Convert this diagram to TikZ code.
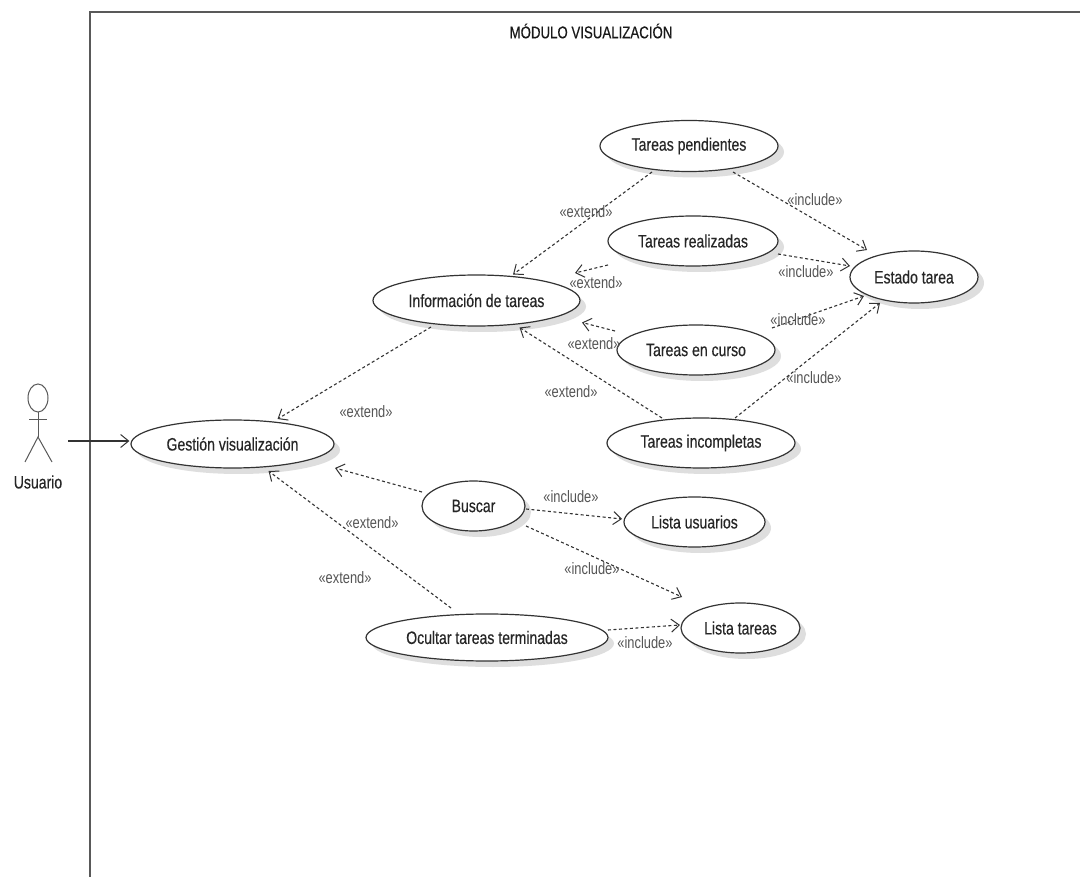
\documentclass[tikz,border=0pt]{standalone}
\usepackage{fontspec}
\setmainfont[FakeStretch=0.78]{Liberation Sans}
\newfontfamily\ucfont[FakeStretch=0.78,FakeBold=0.35]{Liberation Sans}
\usetikzlibrary{shapes.geometric,arrows.meta,calc,shadows}
\definecolor{linec}{HTML}{333333}
\definecolor{labelc}{HTML}{555555}
\tikzset{
  usecase/.style={ellipse,draw=linec,line width=1.2pt,fill=white,inner sep=0pt,text=black!85,
    font=\ucfont\fontsize{18}{20}\selectfont,
    drop shadow={shadow xshift=6pt,shadow yshift=-6pt,fill=black!13,opacity=1}},
  dep/.style={draw=linec,line width=1.1pt,dash pattern=on 3pt off 2.5pt,-{Straight Barb[length=8pt,width=13pt,line width=1pt]}},
  assoc/.style={draw=linec,line width=1.2pt,-{Straight Barb[length=8pt,width=13pt,line width=1pt]}},
  stereo/.style={text=labelc,font=\fontsize{16.5}{18}\selectfont,inner sep=0pt},
  actorline/.style={draw=black!65,line width=1pt},
}
\begin{document}
\begin{tikzpicture}[x=1pt,y=-1pt]
\useasboundingbox (0,0) rectangle (1080,877);
\fill[white] (0,0) rectangle (1080,877);
% frame
\coordinate (fbl) at (90,877);
\coordinate (ftl) at (90,12);
\coordinate (ftr) at (1080,12);
\draw[draw=black!65,line width=1.4pt] (fbl) -- (ftl) -- (ftr);
\node[text=black!90,font=\ucfont\fontsize{17}{19}\selectfont] (title) at (591,31) {MÓDULO VISUALIZACIÓN};
% actor
\node[ellipse,draw=black!65,line width=1pt,minimum width=20pt,minimum height=28pt,inner sep=0pt] (head) at (38,398) {};
\coordinate (hip) at (38,437);
\coordinate (arml) at (29,420);
\coordinate (armr) at (47,420);
\coordinate (legl) at (25,462);
\coordinate (legr) at (52,462);
\draw[actorline] (head.south) -- (hip);
\draw[actorline] (arml) -- (armr);
\draw[actorline] (legl) -- (hip) -- (legr);
\node[text=black!85,font=\ucfont\fontsize{18}{20}\selectfont] (usuario) at (38,482) {Usuario};
\coordinate (actorhand) at (68,441);
% use cases
\node[usecase,minimum width=178pt,minimum height=51pt] (tp) at (689,146) {Tareas pendientes};
\node[usecase,minimum width=170pt,minimum height=50pt] (tr) at (693,241) {Tareas realizadas};
\node[usecase,minimum width=128pt,minimum height=52pt] (et) at (914,277) {Estado tarea};
\node[usecase,minimum width=207pt,minimum height=51pt] (info) at (476.5,300.5) {Información de tareas};
\node[usecase,minimum width=158pt,minimum height=50pt] (tc) at (696,350) {Tareas en curso};
\node[usecase,minimum width=188pt,minimum height=50pt] (ti) at (701,443) {Tareas incompletas};
\node[usecase,minimum width=203pt,minimum height=48pt] (gv) at (232.5,444) {Gestión visualización};
\node[usecase,minimum width=103pt,minimum height=50pt] (bu) at (473.5,506) {Buscar};
\node[usecase,minimum width=141pt,minimum height=50pt] (lu) at (694.5,522) {Lista usuarios};
\node[usecase,minimum width=119pt,minimum height=50pt] (lt) at (740.5,628) {Lista tareas};
\node[usecase,minimum width=242pt,minimum height=47pt] (oc) at (487,637.5) {Ocultar tareas terminadas};
% connectors
\draw[assoc] (actorhand) -- ($(gv.west)+(-1,-3)$);
\draw[dep] ($(tp)+(-37,26)$) -- ($(info)+(36.5,-26)$);
\draw[dep] ($(tr)+(-85,24)$) -- ($(info)+(98.5,-27.5)$);
\draw[dep] ($(tc)+(-81,-19)$) -- ($(info)+(105.5,22)$);
\draw[dep] ($(ti)+(-39,-25)$) -- ($(info)+(43,27)$);
\draw[dep] ($(info)+(-45.5,26.5)$) -- ($(gv)+(45,-25)$);
\draw[dep] ($(bu)+(-51.5,-14)$) -- ($(gv)+(102.5,24)$);
\draw[dep] ($(oc)+(-36,-29.5)$) -- ($(gv)+(36,27)$);
\draw[dep] ($(bu)+(52.5,3)$) -- ($(lu)+(-72.5,-3)$);
\draw[dep] ($(bu)+(52.5,20)$) -- ($(lt)+(-58.5,-31)$);
\draw[dep] ($(oc)+(121,-7.5)$) -- ($(lt)+(-60.5,-3)$);
\draw[dep] ($(tp)+(44,26)$) -- ($(et)+(-47,-27)$);
\draw[dep] ($(tr)+(85,13)$) -- ($(et)+(-64,-11)$);
\draw[dep] ($(tc)+(76,-22)$) -- ($(et)+(-50,19)$);
\draw[dep] ($(ti)+(34,-25)$) -- ($(et)+(-34,26)$);
% stereotypes
\node[stereo] (s1) at (586,212) {«extend»};
\node[stereo] (s2) at (596,283) {«extend»};
\node[stereo] (s3) at (594,344) {«extend»};
\node[stereo] (s4) at (571,392) {«extend»};
\node[stereo] (s5) at (366,412) {«extend»};
\node[stereo] (s6) at (372,523) {«extend»};
\node[stereo] (s7) at (345,578) {«extend»};
\node[stereo] (s8) at (815,200) {«include»};
\node[stereo] (s9) at (806,272) {«include»};
\node[stereo] (s10) at (798,320) {«include»};
\node[stereo] (s11) at (814,378) {«include»};
\node[stereo] (s12) at (571,497) {«include»};
\node[stereo] (s13) at (592,569) {«include»};
\node[stereo] (s14) at (645,643) {«include»};
\end{tikzpicture}
\end{document}
